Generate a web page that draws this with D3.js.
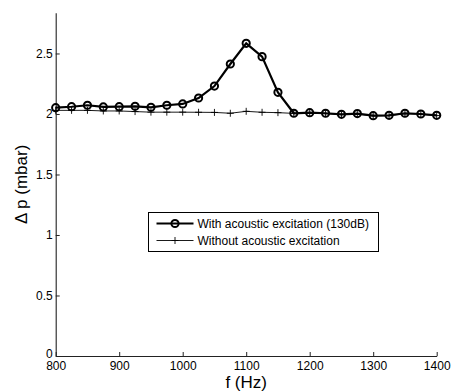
<!DOCTYPE html>
<html>
<head>
<meta charset="utf-8">
<script src="https://d3js.org/d3.v7.min.js"></script>
<style>
  body { margin: 0; background: #fff; }
  text { font-family: "Liberation Sans", Arial, sans-serif; fill: #000; }
</style>
</head>
<body>
<div id="chart"></div>
<script>
// frequencies (Hz)
var freqs = [800, 825, 850, 875, 900, 925, 950, 975, 1000, 1025, 1050, 1075, 1100,
             1125, 1150, 1175, 1200, 1225, 1250, 1275, 1300, 1325, 1350, 1375, 1400];
// delta p with acoustic excitation (130dB)
var withExc = [2.052, 2.06, 2.072, 2.058, 2.06, 2.063, 2.055, 2.072, 2.083, 2.132, 2.231, 2.413, 2.584,
               2.474, 2.179, 2.006, 2.011, 2.006, 1.997, 2.003, 1.986, 1.989, 2.006, 2.0, 1.989];
// delta p without acoustic excitation
var withoutExc = [2.03, 2.03, 2.03, 2.025, 2.025, 2.02, 2.015, 2.015, 2.015, 2.014, 2.013, 2.006, 2.022,
                  2.014, 2.011, 2.005, 2.006, 2.003, 1.995, 1.999, 1.985, 1.987, 2.002, 1.997, 1.987];
var xTicks = [800, 900, 1000, 1100, 1200, 1300, 1400];
var yTicks = [0, 0.5, 1, 1.5, 2, 2.5];
var seriesNames = ["With acoustic excitation (130dB)", "Without acoustic excitation"];

var W = 451, H = 392;
var margin = {top: 12.7, right: 14.3, bottom: 36, left: 55.7};
var width = W - margin.left - margin.right,
    height = H - margin.top - margin.bottom;

var svg = d3.select("#chart").append("svg")
    .attr("width", W).attr("height", H);
var g = svg.append("g")
    .attr("transform", "translate(" + margin.left + "," + margin.top + ")");

var x = d3.scaleLinear().domain([800, 1400]).range([0, width]);
var y = d3.scaleLinear().domain([0, 2.837]).range([height, 0]);

// axes with inward ticks
var xAxis = g.append("g")
    .attr("transform", "translate(0," + height + ")")
    .call(d3.axisBottom(x).tickValues(xTicks).tickSize(-4).tickSizeOuter(0)
      .tickFormat(d3.format("d")));
var yAxis = g.append("g")
    .call(d3.axisLeft(y).tickValues(yTicks).tickSize(-4).tickSizeOuter(0)
      .tickFormat(d3.format("~g")));
[xAxis, yAxis].forEach(function(a) {
  a.select(".domain").attr("stroke", "#222").attr("stroke-width", 1.1);
  a.selectAll(".tick line").attr("stroke", "#222");
  a.selectAll("text").style("font-size", "12px").attr("fill", "#000");
});
xAxis.selectAll(".tick text").attr("y", 7.5).attr("dy", "0.55em");
yAxis.selectAll(".tick text").attr("x", -3);
// lift the "0" label a little so it sits just above "800"
yAxis.selectAll(".tick text").filter(function(d) { return d === 0; }).attr("y", -2);

// axis labels
svg.append("text")
    .attr("x", margin.left + width / 2).attr("y", 388)
    .attr("text-anchor", "middle")
    .style("font-size", "17px")
    .text("f (Hz)");
svg.append("text")
    .attr("transform", "translate(27," + (margin.top + height / 2) + ") rotate(-90)")
    .attr("text-anchor", "middle")
    .style("font-size", "17px")
    .text("\u0394 p (mbar)");

var line = d3.line()
    .x(function(d) { return x(d[0]); })
    .y(function(d) { return y(d[1]); });

var dataWithout = freqs.map(function(f, i) { return [f, withoutExc[i]]; });
var dataWith = freqs.map(function(f, i) { return [f, withExc[i]]; });

function plus(sel, s) {
  sel.append("path")
    .attr("d", "M" + (-s) + ",0H" + s + "M0," + (-s) + "V" + s)
    .attr("stroke", "#000").attr("stroke-width", 0.9).attr("fill", "none");
}

// thin series with plus markers
g.append("path").datum(dataWithout)
    .attr("d", line).attr("fill", "none")
    .attr("stroke", "#000").attr("stroke-width", 0.9);
g.selectAll(".pm").data(dataWithout).enter().append("g")
    .attr("class", "pm")
    .attr("transform", function(d) { return "translate(" + x(d[0]) + "," + y(d[1]) + ")"; })
    .each(function() { plus(d3.select(this), 3.5); });

// thick series with circle markers
g.append("path").datum(dataWith)
    .attr("d", line).attr("fill", "none")
    .attr("stroke", "#000").attr("stroke-width", 2.2);
g.selectAll(".cm").data(dataWith).enter().append("circle")
    .attr("class", "cm")
    .attr("cx", function(d) { return x(d[0]); })
    .attr("cy", function(d) { return y(d[1]); })
    .attr("r", 3.6)
    .attr("fill", "none").attr("stroke", "#000").attr("stroke-width", 2);

// legend
var lg = svg.append("g").attr("transform", "translate(148.5,212.5)");
lg.append("rect")
    .attr("width", 230).attr("height", 39)
    .attr("fill", "#fff").attr("stroke", "#000").attr("stroke-width", 1);
lg.append("line").attr("x1", 8).attr("x2", 45).attr("y1", 11).attr("y2", 11)
    .attr("stroke", "#000").attr("stroke-width", 2.2);
lg.append("circle").attr("cx", 26.5).attr("cy", 11).attr("r", 3.6)
    .attr("fill", "none").attr("stroke", "#000").attr("stroke-width", 2);
lg.append("line").attr("x1", 8).attr("x2", 45).attr("y1", 28).attr("y2", 28)
    .attr("stroke", "#000").attr("stroke-width", 0.9);
lg.append("g").attr("transform", "translate(26.5,28)").call(function(s) { plus(s, 3.5); });
lg.selectAll(".lt").data(seriesNames).enter().append("text")
    .attr("x", 49).attr("y", function(d, i) { return 11 + i * 17; })
    .attr("dy", "0.35em")
    .style("font-size", "12px")
    .text(function(d) { return d; });
</script>
</body>
</html>
